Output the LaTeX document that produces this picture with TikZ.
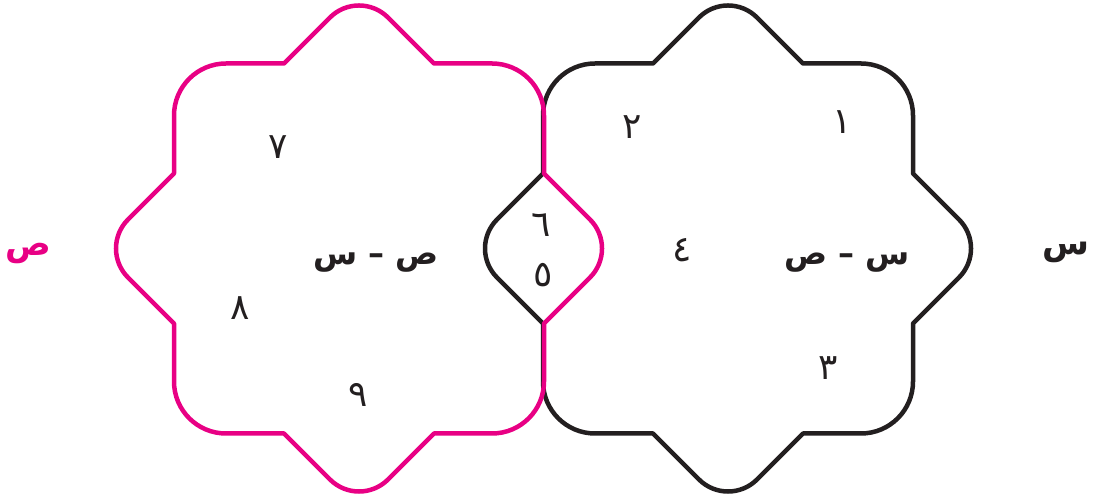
\documentclass[tikz,border=0pt]{standalone}
\usepackage{fontspec}
\TeXXeTstate=1
\newfontfamily\arabicfont[Script=Arabic]{DejaVu Sans}
\definecolor{vpink}{RGB}{232,0,132}
\definecolor{vblack}{RGB}{35,31,32}
\tikzset{
  pinkline/.style={draw=vpink, line width=4.5pt, line join=round},
  blackline/.style={draw=vblack, line width=4.5pt, line join=round},
  digit/.style={text=vblack, font=\arabicfont\fontsize{36}{40}\selectfont, inner sep=0pt},
  difflabel/.style={text=vblack, font=\arabicfont\bfseries\fontsize{32}{36}\selectfont, inner sep=0pt},
  setlabel/.style={font=\arabicfont\bfseries\fontsize{34}{38}\selectfont, inner sep=0pt}
}
\newcommand{\octapath}{(-75,185) -- (-29,231) arc[start angle=135,end angle=45,radius=41pt] -- (75,185) -- (133,185) arc[start angle=90,end angle=0,radius=52pt] -- (185,75) -- (231,29) arc[start angle=45,end angle=-45,radius=41pt] -- (185,-75) -- (185,-133) arc[start angle=0,end angle=-90,radius=52pt] -- (75,-185) -- (29,-231) arc[start angle=-45,end angle=-135,radius=41pt] -- (-75,-185) -- (-133,-185) arc[start angle=-90,end angle=-180,radius=52pt] -- (-185,-75) -- (-231,-29) arc[start angle=-135,end angle=-225,radius=41pt] -- (-185,75) -- (-185,133) arc[start angle=180,end angle=90,radius=52pt] -- cycle}
\begin{document}
\begin{tikzpicture}[x=1pt,y=1pt]
\useasboundingbox (0,0) rectangle (1094,494);
% black set (right)
\begin{scope}[shift={(728,245.5)}]
\draw[blackline] \octapath;
\end{scope}
% pink set (left)
\begin{scope}[shift={(359,245.5)}]
\draw[pinkline] \octapath;
\end{scope}
% digits
\node[digit] (d7) at (278,347) {\beginR ٧\endR};
\node[digit] (d8) at (240,186) {\beginR ٨\endR};
\node[digit] (d9) at (358,99) {\beginR ٩\endR};
\node[digit] (d6) at (541,269) {\beginR ٦\endR};
\node[digit] (d5) at (543,219) {\beginR ٥\endR};
\node[digit] (d2) at (632,367) {\beginR ٢\endR};
\node[digit] (d1) at (842,372) {\beginR ١\endR};
\node[digit] (d4) at (682,244) {\beginR ٤\endR};
\node[digit] (d3) at (828,126) {\beginR ٣\endR};
% difference labels
\node[difflabel] (ymx) at (376,231) {\beginR ص – س\endR};
\node[difflabel] (xmy) at (847,231) {\beginR س – ص\endR};
% set names
\node[setlabel, text=vpink] (setY) at (28,240) {\beginR ص\endR};
\node[setlabel, text=vblack] (setX) at (1066,242) {\beginR س\endR};
\end{tikzpicture}
\end{document}
